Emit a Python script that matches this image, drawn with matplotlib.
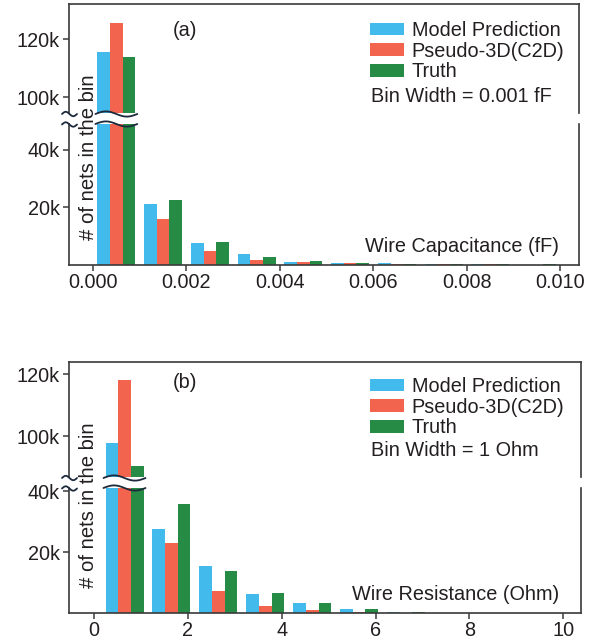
"""
Histograma com eixo y quebrado: capacitancia (a) e resistencia (b) dos fios.
"""
import numpy as np
import matplotlib
matplotlib.use("Agg")
import matplotlib.pyplot as plt
from matplotlib.lines import Line2D
from matplotlib.patches import Patch

plt.rcParams["font.family"] = ["Liberation Sans", "DejaVu Sans"]

# ======================================================================
W, H = 602, 639
FS = 14.3
TXT = "#231f20"
SPINE = "#3a3a3a"
BREAK = "#1c2a3c"
COLORS = ["#42baeb", "#f2644e", "#258b45"]
SERIES = ["Model Prediction", "Pseudo-3D(C2D)", "Truth"]
# ======================================================================

# --- (a) capacitancia, bins de 0.001 fF ---
cap_bins = [0.0005, 0.0015, 0.0025, 0.0035, 0.0045, 0.0055, 0.0065, 0.0075, 0.0085, 0.0095]
cap_model = [115500, 21200, 7600, 3800, 950, 700, 700, 400, 400, 0]
cap_c2d = [125500, 16000, 4900, 1700, 950, 600, 400, 400, 400, 0]
cap_truth = [113800, 22600, 8000, 2800, 1250, 600, 400, 400, 400, 400]
cap_xticks = [0.0, 0.002, 0.004, 0.006, 0.008, 0.010]
cap_xlabels = ["0.000", "0.002", "0.004", "0.006", "0.008", "0.010"]

# --- (b) resistencia, bins de 1 Ohm ---
res_bins = [0.65, 1.65, 2.65, 3.65, 4.65, 5.65, 6.65, 7.65, 8.65, 9.65]
res_model = [97700, 27500, 15400, 6200, 3400, 1400, 400, 150, 100, 100]
res_c2d = [118000, 23000, 7200, 2400, 900, 400, 80, 100, 100, 100]
res_truth = [90300, 35700, 13800, 6600, 3400, 1400, 450, 150, 100, 100]
res_xticks = [0, 2, 4, 6, 8, 10]
res_xlabels = ["0", "2", "4", "6", "8", "10"]

upper_ticks = [100000, 120000]
upper_labels = ["100k", "120k"]
lower_ticks = [20000, 40000]
lower_labels = ["20k", "40k"]


def box(l, t, r, b):
    """Converte caixa em pixels (origem no topo) para coordenadas da figura."""
    return [l / W, 1 - b / H, (r - l) / W, (b - t) / H]


def fx(px):
    return px / W


def fy(py):
    return 1 - py / H


def wave(fig, x0, x1, y, amp=2.6):
    """Linha ondulada (marca de quebra) em pixels."""
    t = np.linspace(0, 1, 40)
    xs = x0 + (x1 - x0) * t
    ys = y - amp * np.sin(2 * np.pi * t)
    fig.add_artist(Line2D(fx(xs), fy(ys), color=BREAK, lw=1.3,
                          transform=fig.transFigure, solid_capstyle="round"))


def style_axis(ax):
    for s in ax.spines.values():
        s.set_color(SPINE)
        s.set_linewidth(1.2)
    ax.tick_params(colors=TXT, labelsize=FS, width=1.1, length=4.2,
                   labelcolor=TXT)
    ax.tick_params(axis="y", color=SPINE, pad=2.5)
    ax.tick_params(axis="x", color=SPINE, pad=1.2)
    ax.set_facecolor("none")


def panel(fig, bins, series, rect_up, rect_lo, ylim_up, ylim_lo, xlim,
          xticks, xlabels, tag, tag_xy, bin_text, leg_xy, bin_xy, xlabel,
          xlabel_xy, ylabel_xy):
    width = (bins[1] - bins[0]) * 0.27
    ax_up = fig.add_axes(box(*rect_up))
    ax_lo = fig.add_axes(box(*rect_lo))

    for ax in (ax_up, ax_lo):
        for k, vals in enumerate(series):
            ax.bar(np.array(bins) + (k - 1) * width, vals, width=width,
                   color=COLORS[k], linewidth=0)
        ax.set_xlim(*xlim)
        style_axis(ax)

    ax_up.set_ylim(*ylim_up)
    ax_lo.set_ylim(*ylim_lo)
    ax_up.spines["bottom"].set_visible(False)
    ax_lo.spines["top"].set_visible(False)
    ax_up.tick_params(axis="x", bottom=False, labelbottom=False)
    ax_up.set_yticks(upper_ticks, upper_labels)
    ax_lo.set_yticks(lower_ticks, lower_labels)
    ax_lo.set_xticks(xticks, xlabels)

    # marcas de quebra: no eixo y e no primeiro grupo de barras
    y_up = rect_up[3]
    y_lo = rect_lo[1]
    left = rect_up[0]
    wave(fig, left - 7, left + 8, y_up + 1, amp=2.2)
    wave(fig, left - 7, left + 8, y_lo + 0.5, amp=2.2)
    fig.canvas.draw()
    x0 = ax_lo.transData.transform((bins[0] - 1.5 * width, 0))[0]
    x1 = ax_lo.transData.transform((bins[0] + 1.5 * width, 0))[0]
    wave(fig, x0 - 2, x1 + 2, y_up + 1)
    wave(fig, x0 - 2, x1 + 2, y_lo)

    handles = [Patch(facecolor=c, edgecolor="none") for c in COLORS]
    leg = ax_up.legend(handles, SERIES, loc="upper left",
                       bbox_to_anchor=(fx(leg_xy[0]), fy(leg_xy[1])),
                       bbox_transform=fig.transFigure, frameon=False,
                       fontsize=FS, handlelength=1.7, handleheight=0.62,
                       handletextpad=0.4, labelspacing=0.08, borderpad=0,
                       borderaxespad=0)
    for t in leg.get_texts():
        t.set_color(TXT)

    fig.text(fx(bin_xy[0]), fy(bin_xy[1]), bin_text, fontsize=FS, color=TXT,
             ha="left", va="center")
    fig.text(fx(tag_xy[0]), fy(tag_xy[1]), tag, fontsize=FS, color=TXT,
             ha="center", va="center")
    fig.text(fx(xlabel_xy[0]), fy(xlabel_xy[1]), xlabel, fontsize=FS,
             color=TXT, ha="right", va="center")
    fig.text(fx(ylabel_xy[0]), fy(ylabel_xy[1]), "# of nets in the bin",
             fontsize=14.6, color=TXT, rotation=90, ha="center", va="center")


def main():
    fig = plt.figure(figsize=(W / 100, H / 100), dpi=100)

    panel(fig, cap_bins, [cap_model, cap_c2d, cap_truth],
          rect_up=(69, 4, 579, 113), rect_lo=(69, 124, 579, 265),
          ylim_up=(94500, 132100), ylim_lo=(0, 49000),
          xlim=(-0.000513, 0.010396),
          xticks=cap_xticks, xlabels=cap_xlabels,
          tag="(a)", tag_xy=(185, 30), bin_text="Bin Width = 0.001 fF",
          leg_xy=(370, 21), bin_xy=(371, 96), xlabel="Wire Capacitance (fF)",
          xlabel_xy=(559, 247), ylabel_xy=(89, 157))

    panel(fig, res_bins, [res_model, res_c2d, res_truth],
          rect_up=(69, 362, 581, 477), rect_lo=(69, 488, 581, 613),
          ylim_up=(86800, 123900), ylim_lo=(0, 41000),
          xlim=(-0.533, 10.38),
          xticks=res_xticks, xlabels=res_xlabels,
          tag="(b)", tag_xy=(185, 383), bin_text="Bin Width = 1 Ohm",
          leg_xy=(370, 377), bin_xy=(371, 451), xlabel="Wire Resistance (Ohm)",
          xlabel_xy=(559, 595), ylabel_xy=(89, 505))

    fig.savefig("out.png", dpi=100)
    plt.close(fig)


if __name__ == "__main__":
    main()
